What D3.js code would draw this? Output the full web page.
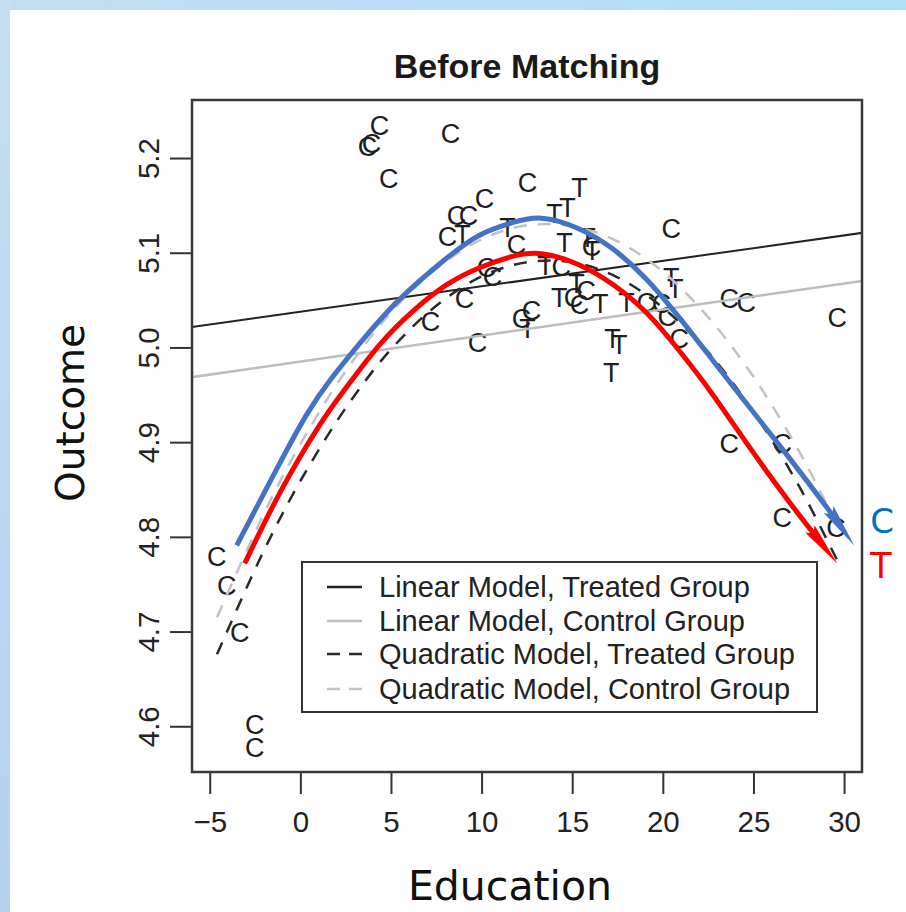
<!DOCTYPE html>
<html>
<head>
<meta charset="utf-8">
<script src="https://cdn.jsdelivr.net/npm/d3@7"></script>
<style>
  body { margin: 0; background: #fff; }
  svg { display: block; }
</style>
</head>
<body>
<script>
// control group points (letter "C")
const cX = [4.37, 3.71, 3.93, 8.29, 4.87, 10.16, 8.62, 9.28, 8.12, 12.53, 11.92, 10.27, 10.60, 9.06, 7.18, 9.77,
  12.20, 12.75, 14.40, 15.07, 15.40, 15.78, 16.06, 19.09, 19.92, 20.25, 20.47, 20.91, 23.67, 24.60, 29.62,
  23.67, 26.59, 26.59, 29.56, -4.61, -4.06, -3.35, -2.52, -2.52];
const cY = [5.235, 5.212, 5.216, 5.226, 5.179, 5.158, 5.140, 5.140, 5.117, 5.174, 5.109, 5.085, 5.075, 5.052, 5.028, 5.005,
  5.031, 5.039, 5.086, 5.053, 5.046, 5.060, 5.107, 5.048, 5.047, 5.033, 5.126, 5.010, 5.052, 5.048, 5.032,
  4.899, 4.899, 4.821, 4.810, 4.779, 4.749, 4.699, 4.602, 4.578];

// treated group points (letter "T")
const tX = [8.95, 11.43, 14.02, 14.74, 15.40, 14.57, 15.84, 16.11, 13.52, 14.29, 15.23, 16.55, 17.99, 17.22, 17.60, 17.16, 20.47, 20.69, 12.53];
const tY = [5.120, 5.127, 5.142, 5.148, 5.169, 5.111, 5.116, 5.103, 5.087, 5.053, 5.068, 5.047, 5.048, 5.010, 5.003, 4.974, 5.074, 5.062, 5.020];

// linear fits (across the whole plot)
const linX = [-6, 31];
const linTreated = [5.0215, 5.1210];
const linControl = [4.9686, 5.0702];

// quadratic fits
const quadX = [-4.6, -2, 0, 2.5, 5, 7.5, 10, 12.5, 15, 17.5, 20, 22.5, 25, 27.5, 29.6];
const quadTreated = [4.676, 4.786, 4.859, 4.936, 4.998, 5.044, 5.075, 5.090, 5.090, 5.074, 5.042, 4.995, 4.932, 4.854, 4.776];
const quadControl = [4.715, 4.825, 4.898, 4.975, 5.037, 5.083, 5.114, 5.129, 5.128, 5.112, 5.080, 5.032, 4.969, 4.891, 4.813];

// hand drawn arrows on top
const blueX = [-3.51, -1.14, 0.35, 1.62, 3.43, 5.31, 8.07, 9.88, 11.70, 13.19, 15.40, 17.22, 19.09, 20.91, 22.73, 24.60, 26.97, 29.18, 30.56];
const blueY = [4.791, 4.878, 4.931, 4.966, 5.008, 5.050, 5.095, 5.121, 5.132, 5.140, 5.127, 5.106, 5.074, 5.032, 4.987, 4.941, 4.884, 4.828, 4.791];
const redX = [-3.07, -1.14, 1.23, 2.55, 4.37, 6.19, 8.07, 9.88, 11.70, 13.19, 15.40, 17.22, 19.09, 20.91, 22.73, 24.60, 26.97, 29.62];
const redY = [4.772, 4.849, 4.925, 4.958, 5.005, 5.039, 5.068, 5.085, 5.097, 5.102, 5.089, 5.068, 5.039, 4.997, 4.952, 4.899, 4.836, 4.772];

const xTicks = [-5, 0, 5, 10, 15, 20, 25, 30];
const yTicks = [4.6, 4.7, 4.8, 4.9, 5.0, 5.1, 5.2];
const legendLabels = ["Linear Model, Treated Group", "Linear Model, Control Group",
  "Quadratic Model, Treated Group", "Quadratic Model, Control Group"];

const width = 906, height = 912;
const plot = { left: 192, right: 862, top: 100, bottom: 772 };
const rFont = "'Liberation Sans', Arial, Helvetica, sans-serif";
const slideFont = "'DejaVu Sans', Verdana, sans-serif";

const svg = d3.select("body").append("svg")
  .attr("width", width)
  .attr("height", height);

const defs = svg.append("defs");

// slide border strips
const gTop = defs.append("linearGradient").attr("id", "gTop");
gTop.append("stop").attr("offset", "0%").attr("stop-color", "#c4dcf1");
gTop.append("stop").attr("offset", "100%").attr("stop-color", "#aee0f6");
const gLeft = defs.append("linearGradient").attr("id", "gLeft")
  .attr("x1", 0).attr("y1", 0).attr("x2", 0).attr("y2", 1);
gLeft.append("stop").attr("offset", "0%").attr("stop-color", "#c6ddf2");
gLeft.append("stop").attr("offset", "100%").attr("stop-color", "#b6d1ec");

svg.append("rect").attr("x", 0).attr("y", 0).attr("width", width).attr("height", 10).attr("fill", "url(#gTop)");
svg.append("rect").attr("x", 0).attr("y", 0).attr("width", 10).attr("height", height).attr("fill", "url(#gLeft)");

// R style axis ranges: data extent plus 4%
function padded(ext) {
  const d = (ext[1] - ext[0]) * 0.04;
  return [ext[0] - d, ext[1] + d];
}

const x = d3.scaleLinear()
  .domain(padded(d3.extent(cX.concat(tX))))
  .range([plot.left, plot.right]);
const y = d3.scaleLinear()
  .domain(padded(d3.extent(cY.concat(tY))))
  .range([plot.bottom, plot.top]);

defs.append("clipPath").attr("id", "plotClip")
  .append("rect")
  .attr("x", plot.left).attr("y", plot.top)
  .attr("width", plot.right - plot.left).attr("height", plot.bottom - plot.top);

// title
svg.append("text")
  .attr("x", (plot.left + plot.right) / 2)
  .attr("y", 78)
  .attr("text-anchor", "middle")
  .attr("font-family", rFont)
  .attr("font-weight", "bold")
  .attr("font-size", 34)
  .attr("fill", "#1a1a1a")
  .text("Before Matching");

// axes
const xAxis = d3.axisBottom(x).tickValues(xTicks).tickSize(22).tickPadding(17);
svg.append("g")
  .attr("transform", "translate(0," + plot.bottom + ")")
  .call(xAxis)
  .attr("font-family", rFont)
  .attr("font-size", 29.5)
  .call(g => g.select(".domain").remove())
  .call(g => g.selectAll(".tick line").attr("stroke", "#333").attr("stroke-width", 2))
  .call(g => g.selectAll(".tick text").attr("fill", "#222"));

const yAxis = d3.axisLeft(y).tickValues(yTicks).tickSize(22).tickFormat(d3.format(".1f"));
svg.append("g")
  .attr("transform", "translate(" + plot.left + ",0)")
  .call(yAxis)
  .attr("font-family", rFont)
  .attr("font-size", 29.5)
  .call(g => g.select(".domain").remove())
  .call(g => g.selectAll(".tick line").attr("stroke", "#333").attr("stroke-width", 2))
  .call(g => g.selectAll(".tick text")
    .attr("x", 0)
    .attr("dy", 0)
    .attr("text-anchor", "middle")
    .attr("fill", "#222")
    .attr("transform", "translate(-33,0) rotate(-90)"));

// axis titles
svg.append("text")
  .attr("transform", "translate(84,413) rotate(-90)")
  .attr("text-anchor", "middle")
  .attr("font-family", slideFont)
  .attr("font-size", 39)
  .attr("fill", "#111")
  .text("Outcome");

svg.append("text")
  .attr("x", 510)
  .attr("y", 900)
  .attr("text-anchor", "middle")
  .attr("font-family", slideFont)
  .attr("font-size", 41)
  .attr("fill", "#111")
  .text("Education");

// points
const pts = svg.append("g")
  .attr("font-family", rFont)
  .attr("font-size", 27)
  .attr("fill", "#1e1e1e")
  .attr("text-anchor", "middle");

pts.selectAll("text.c")
  .data(cX.map((d, i) => [d, cY[i]]))
  .enter().append("text")
  .attr("class", "c")
  .attr("x", d => x(d[0]))
  .attr("y", d => y(d[1]))
  .attr("dy", "0.36em")
  .text("C");

pts.selectAll("text.t")
  .data(tX.map((d, i) => [d, tY[i]]))
  .enter().append("text")
  .attr("class", "t")
  .attr("x", d => x(d[0]))
  .attr("y", d => y(d[1]))
  .attr("dy", "0.36em")
  .text("T");

// model lines
const line = d3.line().x(d => x(d[0])).y(d => y(d[1]));
const smooth = d3.line().x(d => x(d[0])).y(d => y(d[1])).curve(d3.curveCatmullRom.alpha(0.5));
const soft = d3.line().x(d => x(d[0])).y(d => y(d[1])).curve(d3.curveBasis);

const models = svg.append("g").attr("clip-path", "url(#plotClip)").attr("fill", "none");

models.append("path")
  .attr("d", line(linX.map((d, i) => [d, linTreated[i]])))
  .attr("stroke", "#222").attr("stroke-width", 2);
models.append("path")
  .attr("d", line(linX.map((d, i) => [d, linControl[i]])))
  .attr("stroke", "#bdbdbd").attr("stroke-width", 2.5);
models.append("path")
  .attr("d", smooth(quadX.map((d, i) => [d, quadTreated[i]])))
  .attr("stroke", "#2a2a2a").attr("stroke-width", 2.5).attr("stroke-dasharray", "13 11");
models.append("path")
  .attr("d", smooth(quadX.map((d, i) => [d, quadControl[i]])))
  .attr("stroke", "#c2c2c2").attr("stroke-width", 2.5).attr("stroke-dasharray", "13 11");

// frame
svg.append("rect")
  .attr("x", plot.left).attr("y", plot.top)
  .attr("width", plot.right - plot.left).attr("height", plot.bottom - plot.top)
  .attr("fill", "none").attr("stroke", "#3a3a3a").attr("stroke-width", 2.5);

// legend
const legend = svg.append("g");
legend.append("rect")
  .attr("x", 302).attr("y", 562).attr("width", 515).attr("height", 150)
  .attr("fill", "#fff").attr("stroke", "#333").attr("stroke-width", 2);

const legendStyles = [
  { stroke: "#222", dash: null },
  { stroke: "#bdbdbd", dash: null },
  { stroke: "#2a2a2a", dash: "13 9" },
  { stroke: "#c2c2c2", dash: "13 9" }
];
const legendRows = [587, 621, 654, 689];

legendLabels.forEach((lab, i) => {
  legend.append("line")
    .attr("x1", 327).attr("x2", 362)
    .attr("y1", legendRows[i]).attr("y2", legendRows[i])
    .attr("stroke", legendStyles[i].stroke)
    .attr("stroke-width", 2.5)
    .attr("stroke-dasharray", legendStyles[i].dash);
  legend.append("text")
    .attr("x", 379).attr("y", legendRows[i])
    .attr("dy", "0.36em")
    .attr("font-family", rFont)
    .attr("font-size", 29)
    .attr("fill", "#222")
    .text(lab);
});

// arrows drawn over the plot
function arrowMarker(id, color) {
  defs.append("marker")
    .attr("id", id)
    .attr("viewBox", "-50 -10 52 20")
    .attr("refX", 0).attr("refY", 0)
    .attr("markerWidth", 52).attr("markerHeight", 20)
    .attr("markerUnits", "userSpaceOnUse")
    .attr("orient", "auto")
    .append("path")
    .attr("d", "M0,0 L-44,-6 L-38,0 L-44,6 Z")
    .attr("fill", color);
}
arrowMarker("arrBlue", "#4472c4");
arrowMarker("arrRed", "#ff0000");

function arrow(xs, ys, color, id) {
  const p = svg.append("path")
    .attr("d", soft(xs.map((d, i) => [d, ys[i]])))
    .attr("fill", "none")
    .attr("stroke", color)
    .attr("stroke-width", 5)
    .attr("marker-end", "url(#" + id + ")");
  const len = p.node().getTotalLength();
  p.attr("stroke-dasharray", (len - 30) + " " + len);
}
arrow(blueX, blueY, "#4472c4", "arrBlue");
arrow(redX, redY, "#ff0000", "arrRed");

svg.append("text")
  .attr("x", 882).attr("y", 533)
  .attr("text-anchor", "middle")
  .attr("font-family", slideFont)
  .attr("font-size", 34)
  .attr("fill", "#0070c0")
  .text("C");
svg.append("text")
  .attr("x", 881).attr("y", 578)
  .attr("text-anchor", "middle")
  .attr("font-family", slideFont)
  .attr("font-size", 35)
  .attr("fill", "#ff0000")
  .text("T");
</script>
</body>
</html>
